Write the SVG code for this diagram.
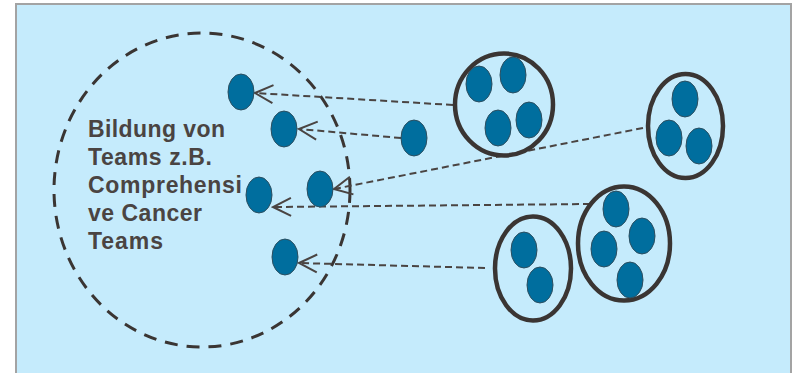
<svg xmlns="http://www.w3.org/2000/svg" width="792" height="373" viewBox="0 0 792 373">
<defs>
<style>
.bg{fill:#c5ebfc;stroke:#a3a3a3;stroke-width:2}
.dot{fill:#006e9e;stroke:#2d4f60;stroke-width:1}
.ring{fill:none;stroke:#3a3533;stroke-width:4.5}
.team{fill:none;stroke:#3a3533;stroke-width:3;stroke-dasharray:13 9}
.conn{fill:none;stroke:#4a4442;stroke-width:2;stroke-dasharray:7 4;marker-end:url(#arr)}
.lbl{font-family:"Liberation Sans",Arial,sans-serif;font-weight:bold;font-size:23px;fill:#4a4442}
</style>
<marker id="arr" viewBox="-20 -11 22 22" refX="0" refY="0" markerWidth="22" markerHeight="22" markerUnits="userSpaceOnUse" orient="auto">
<path d="M-18,-9 L0,0 L-18,9" fill="none" stroke="#4a4442" stroke-width="2"/>
</marker>
</defs>
<rect class="bg" x="16" y="4" width="775" height="375"/>
<g id="team-circle">
<ellipse class="team" cx="202" cy="190" rx="148" ry="157"/>
<text class="lbl"><tspan x="88" y="137" textLength="137" lengthAdjust="spacing">Bildung von</tspan><tspan x="88" y="165" textLength="124" lengthAdjust="spacing">Teams z.B.</tspan><tspan x="88" y="193" textLength="154" lengthAdjust="spacing">Comprehensi</tspan><tspan x="88" y="221" textLength="114" lengthAdjust="spacing">ve Cancer</tspan><tspan x="88" y="249" textLength="75" lengthAdjust="spacing">Teams</tspan></text>
</g>
<g id="connectors">
<line class="conn" x1="453" y1="105" x2="255" y2="93"/>
<line class="conn" x1="401" y1="138" x2="299" y2="129"/>
<line class="conn" x1="643" y1="128" x2="334" y2="189"/>
<line class="conn" x1="590" y1="204" x2="273" y2="207"/>
<line class="conn" x1="485" y1="268" x2="299" y2="263"/>
</g>
<g id="member-1"><ellipse class="dot" cx="241" cy="92" rx="13" ry="18"/></g>
<g id="member-2"><ellipse class="dot" cx="284" cy="129" rx="13" ry="18"/></g>
<g id="member-3"><ellipse class="dot" cx="414" cy="138" rx="13" ry="18"/></g>
<g id="member-4"><ellipse class="dot" cx="320" cy="189" rx="13" ry="18"/></g>
<g id="member-5"><ellipse class="dot" cx="259" cy="195" rx="13" ry="18"/></g>
<g id="member-6"><ellipse class="dot" cx="285" cy="257" rx="13" ry="18"/></g>
<g id="cluster-a">
<ellipse class="ring" cx="504" cy="104.5" rx="49" ry="51"/>
<ellipse class="dot" cx="479" cy="84" rx="13" ry="18"/>
<ellipse class="dot" cx="513" cy="75" rx="13" ry="18"/>
<ellipse class="dot" cx="498" cy="128" rx="13" ry="18"/>
<ellipse class="dot" cx="529" cy="120" rx="13" ry="18"/>
</g>
<g id="cluster-b">
<ellipse class="ring" cx="685.5" cy="126" rx="37.5" ry="52"/>
<ellipse class="dot" cx="685" cy="99" rx="13" ry="18"/>
<ellipse class="dot" cx="669" cy="138" rx="13" ry="18"/>
<ellipse class="dot" cx="699" cy="146" rx="13" ry="18"/>
</g>
<g id="cluster-c">
<ellipse class="ring" cx="624" cy="243.5" rx="46" ry="57"/>
<ellipse class="dot" cx="616" cy="209" rx="13" ry="18"/>
<ellipse class="dot" cx="642" cy="236" rx="13" ry="18"/>
<ellipse class="dot" cx="604" cy="249" rx="13" ry="18"/>
<ellipse class="dot" cx="630" cy="280" rx="13" ry="18"/>
</g>
<g id="cluster-d">
<ellipse class="ring" cx="533" cy="268.5" rx="38" ry="52"/>
<ellipse class="dot" cx="524" cy="250" rx="13" ry="18"/>
<ellipse class="dot" cx="540" cy="285" rx="13" ry="18"/>
</g>
</svg>
